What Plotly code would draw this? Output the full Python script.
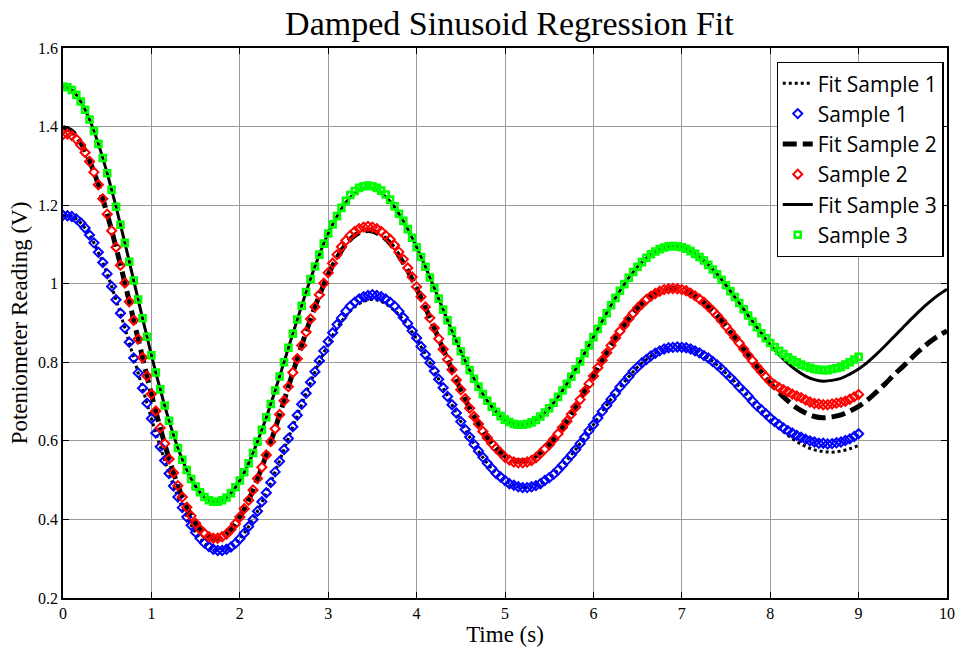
import numpy as np
import plotly.graph_objects as go

# ---------------- data ----------------
t_samples = np.round(np.arange(0, 181) * 0.05, 2)   # 0 .. 9 s
t_fit = np.round(np.arange(0, 101) * 0.1, 1)        # 0 .. 10 s

sample1 = [1.174,1.173,1.171,1.165,1.155,1.142,1.124,1.104,1.080,1.054,
 1.025,0.993,0.959,0.925,0.887,0.851,0.811,0.773,0.734,0.696,
 0.657,0.620,0.585,0.550,0.517,0.485,0.457,0.430,0.406,0.385,
 0.367,0.352,0.340,0.331,0.324,0.321,0.321,0.324,0.330,0.339,
 0.351,0.365,0.382,0.400,0.421,0.445,0.468,0.494,0.521,0.548,
 0.578,0.606,0.636,0.665,0.693,0.721,0.749,0.776,
 0.804,0.829,0.853,0.875,0.896,0.913,0.930,0.943,0.953,0.961,0.967,0.970,
 0.972,0.970,0.967,0.961,0.953,0.943,0.930,0.914,0.899,0.880,0.862,0.840,
 0.820,0.799,0.778,0.757,0.735,0.713,0.692,0.671,
 0.649,0.629,0.610,0.591,0.574,0.558,0.543,0.530,0.517,0.508,
 0.499,0.491,0.487,0.483,0.481,0.481,0.483,0.486,0.491,0.499,
 0.506,0.515,0.526,0.538,0.551,0.564,0.578,0.593,0.609,0.626,
 0.641,0.658,0.675,0.690,0.706,0.721,0.737,0.750,0.763,0.777,
 0.788,0.799,0.807,0.816,0.823,0.829,0.834,0.837,0.838,0.839,
 0.838,0.837,0.834,0.829,0.824,0.817,0.811,0.802,0.793,0.783,
 0.772,0.761,0.750,0.737,0.726,0.714,0.701,0.689,
 0.679,0.669,0.658,0.649,0.641,0.633,0.626,0.620,0.614,0.609,0.604,0.600,
 0.597,0.594,0.594,0.592,0.593,0.595,0.597,0.601,0.605,0.611,0.618]

sample2 = [1.380,1.381,1.377,1.368,1.353,1.334,1.311,
 1.284,1.252,1.216,1.177,1.135,1.093,1.047,1.002,0.954,0.907,0.859,0.812,0.765,
 0.719,0.676,0.633,0.593,0.554,0.519,0.486,0.457,0.431,0.409,0.390,0.375,0.364,
 0.356,0.352,0.352,0.356,0.363,0.374,0.389,0.406,0.427,0.449,0.475,0.504,0.533,
 0.564,0.598,0.631,0.667,0.702,0.738,0.774,0.809,0.843,0.877,0.910,0.941,
 0.972,1.001,1.028,1.052,1.074,1.094,1.110,1.123,1.133,1.140,1.144,1.146,1.144,
 1.140,1.133,1.123,1.113,1.098,1.081,1.062,1.040,1.017,0.992,0.967,0.941,
 0.913,0.887,0.860,0.833,0.807,0.781,0.755,0.730,0.707,0.683,0.662,0.643,0.624,
 0.608,0.593,0.581,0.570,
 0.558,0.551,0.546,0.544,0.544,0.546,0.550,0.557,0.568,
 0.579,0.590,0.604,0.618,0.634,0.650,0.668,0.686,0.705,0.726,0.745,0.765,0.786,
 0.805,0.824,0.843,0.862,0.879,0.895,0.911,0.925,0.938,0.949,0.960,0.968,0.975,
 0.981,0.985,0.987,0.988,0.987,0.985,0.982,0.976,0.969,0.961,0.953,0.942,0.931,
 0.919,0.906,0.892,0.878,0.863,0.849,0.834,0.818,0.804,0.789,
 0.776,0.763,0.751,0.743,0.736,0.730,0.725,0.719,0.714,0.710,0.704,0.699,0.695,
 0.694,0.692,0.692,0.694,0.696,0.698,0.701,0.706,0.712,0.718]

sample3 = [1.502,
 1.500,1.493,1.481,1.464,1.443,1.418,1.389,1.356,1.320,1.281,
 1.239,1.196,1.150,1.104,1.056,1.008,0.960,0.912,0.865,0.818,
 0.774,0.731,0.690,0.651,0.615,0.582,0.552,0.526,0.503,0.484,
 0.469,0.457,0.449,0.445,0.445,0.449,0.456,0.467,0.482,0.499,
 0.520,0.543,0.569,0.598,0.628,0.660,0.694,0.728,0.764,0.800,
 0.837,0.873,0.909,0.944,0.979,1.012,1.044,1.074,1.102,1.128,
 1.151,1.172,1.193,1.211,1.226,1.236,1.244,1.248,1.250,1.248,
 1.244,1.237,1.227,1.214,1.197,1.178,1.160,1.139,1.117,1.093,
 1.068,1.043,1.016,0.989,0.962,0.934,0.907,0.880,0.854,0.828,
 0.804,0.780,0.758,0.738,0.719,0.702,0.687,0.674,0.663,0.654,
 0.648,0.643,0.641,0.641,0.643,0.647,0.653,0.662,0.672,0.683,
 0.697,0.712,0.728,0.745,0.763,0.782,0.802,0.823,0.843,0.864,
 0.885,0.905,0.925,0.945,0.964,0.982,0.999,1.015,1.030,1.043,
 1.055,1.066,1.075,1.082,1.088,1.092,1.095,1.096,1.095,1.093,
 1.089,1.083,1.076,1.068,1.059,1.048,1.036,1.024,1.010,0.996,
 0.981,0.966,0.951,0.935,0.919,0.904,0.889,0.874,0.861,0.849,
 0.839,0.829,0.821,0.813,0.806,0.800,0.794,0.790,0.786,0.783,
 0.781,0.780,0.780,0.783,0.785,0.788,0.794,0.800,0.807,0.814]

fit1 = [1.174,1.171,1.155,1.124,1.080,1.025,0.959,0.887,0.811,0.734,
 0.657,0.585,0.517,0.457,0.406,0.367,0.340,0.324,0.321,0.330,
 0.351,0.382,0.421,0.468,0.521,0.578,0.636,0.693,0.749,0.801,
 0.847,0.887,0.918,0.941,0.955,0.960,0.955,0.941,0.921,0.893,
 0.859,0.820,0.778,0.735,0.692,0.649,0.610,0.574,0.543,0.517,
 0.499,0.487,0.481,0.483,0.491,0.506,0.526,0.551,0.578,0.609,
 0.641,0.675,0.706,0.737,0.763,0.788,0.807,0.823,0.834,0.838,
 0.838,0.834,0.824,0.811,0.793,0.772,0.750,0.726,0.701,0.677,
 0.654,0.633,0.614,0.598,0.586,0.577,0.573,0.571,0.574,0.580,
 0.588]

fit2 = [1.397,1.388,1.359,1.313,1.252,1.177,1.093,1.002,0.907,0.812,
 0.719,0.633,0.554,0.486,0.431,0.390,0.364,0.352,0.356,0.374,
 0.406,0.449,0.504,0.564,0.631,0.702,0.774,0.843,0.910,0.970,
 1.023,1.066,1.100,1.123,1.134,1.134,1.123,1.103,1.071,1.033,
 0.988,0.939,0.887,0.833,0.781,0.730,0.683,0.643,0.608,0.581,
 0.561,0.551,0.549,0.555,0.570,0.590,0.618,0.650,0.686,0.726,
 0.765,0.805,0.843,0.879,0.911,0.938,0.960,0.975,0.985,0.988,
 0.985,0.976,0.961,0.942,0.919,0.892,0.863,0.834,0.804,0.775,
 0.747,0.723,0.702,0.684,0.671,0.662,0.659,0.661,0.666,0.676,
 0.688,0.704,0.724,0.745,0.768,0.789,0.811,0.832,0.851,0.867,
 0.880]

fit3 = [1.502,1.493,1.464,1.418,1.356,1.281,1.196,1.104,1.008,0.912,
 0.818,0.731,0.651,0.582,0.526,0.484,0.457,0.445,0.449,0.467,
 0.499,0.543,0.598,0.660,0.728,0.800,0.873,0.944,1.012,1.074,
 1.128,1.172,1.207,1.230,1.242,1.242,1.231,1.210,1.178,1.139,
 1.093,1.043,0.989,0.934,0.880,0.828,0.780,0.738,0.702,0.674,
 0.654,0.643,0.641,0.647,0.662,0.683,0.712,0.745,0.782,0.823,
 0.864,0.905,0.945,0.982,1.015,1.043,1.066,1.082,1.092,1.096,
 1.093,1.083,1.068,1.048,1.024,0.996,0.966,0.935,0.904,0.874,
 0.845,0.819,0.797,0.779,0.765,0.756,0.752,0.754,0.759,0.770,
 0.783,0.800,0.820,0.842,0.865,0.888,0.911,0.933,0.953,0.971,
 0.986]

assert len(sample1) == len(sample2) == len(sample3) == len(t_samples)
assert len(fit2) == len(fit3) == len(t_fit) and len(fit1) == 91

x_ticks = [0, 1, 2, 3, 4, 5, 6, 7, 8, 9, 10]
y_ticks = [0.2, 0.4, 0.6, 0.8, 1.0, 1.2, 1.4, 1.6]
y_tick_text = ["0.2", "0.4", "0.6", "0.8", "1", "1.2", "1.4", "1.6"]

# ---------------- figure ----------------
fig = go.Figure()
fig.add_trace(go.Scatter(x=t_fit[:91], y=fit1, mode="lines", name="Fit Sample 1",
                         line=dict(color="black", width=3, dash="dot", shape="spline")))
fig.add_trace(go.Scatter(x=t_samples, y=sample1, mode="markers", name="Sample 1",
                         marker=dict(symbol="diamond-open", size=7, color="#0000ff",
                                     line=dict(width=2))))
fig.add_trace(go.Scatter(x=t_fit, y=fit2, mode="lines", name="Fit Sample 2",
                         line=dict(color="black", width=5, dash="14px,6px", shape="spline")))
fig.add_trace(go.Scatter(x=t_samples, y=sample2, mode="markers", name="Sample 2",
                         marker=dict(symbol="diamond-open", size=7, color="#ff0000",
                                     line=dict(width=2))))
fig.add_trace(go.Scatter(x=t_fit, y=fit3, mode="lines", name="Fit Sample 3",
                         line=dict(color="black", width=3, shape="spline")))
fig.add_trace(go.Scatter(x=t_samples, y=sample3, mode="markers", name="Sample 3",
                         marker=dict(symbol="square-open", size=6, color="#00ff00",
                                     line=dict(width=2.6))))

serif = "Liberation Serif, Times New Roman, serif"
axis_common = dict(showgrid=True, gridcolor="#9a9a9a", gridwidth=1, zeroline=False,
                   showline=True, linecolor="black", linewidth=1.5, mirror="ticks",
                   ticks="inside", ticklen=6, tickcolor="black", tickwidth=1,
                   tickfont=dict(family=serif, size=16, color="black"))

fig.update_layout(
    width=964, height=647,
    margin=dict(l=63, r=9, t=48, b=47, pad=0),
    paper_bgcolor="white", plot_bgcolor="white",
    title=dict(text="Damped Sinusoid Regression Fit", x=0.505, xref="paper",
               y=1 - 23 / 647, yref="container", yanchor="middle", xanchor="center",
               font=dict(family=serif, size=34, color="black")),
    xaxis=dict(range=[0, 10], tickvals=x_ticks,
               title=dict(text="Time (s)", font=dict(family=serif, size=23, color="black"),
                          standoff=0),
               **axis_common),
    yaxis=dict(range=[0.2, 1.6], tickvals=y_ticks, ticktext=y_tick_text,
               title=dict(text="Poteniometer Reading (V)",
                          font=dict(family=serif, size=23, color="black"), standoff=4),
               **axis_common),
    legend=dict(x=(783 - 63) / 892, y=(600 - 62) / 552, xanchor="left", yanchor="top",
                bgcolor="white", bordercolor="black", borderwidth=1.2,
                font=dict(family="Open Sans, Lato, sans-serif", size=21, color="black"),
                itemwidth=30, tracegroupgap=0),
    showlegend=True,
)

fig.write_html("out.html")
